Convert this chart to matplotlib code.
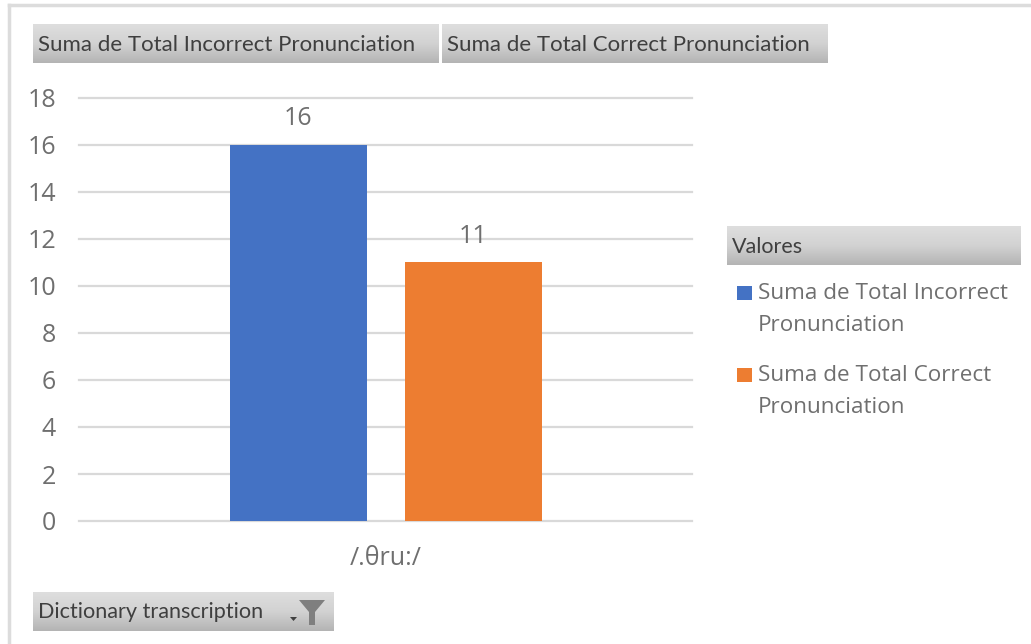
#!/usr/bin/env python
# coding: utf-8

import numpy as np
import matplotlib
matplotlib.use("Agg")
import matplotlib.pyplot as plt
from matplotlib.colors import LinearSegmentedColormap
from matplotlib.patches import Polygon, Rectangle

series_names = ["Suma de Total Incorrect Pronunciation", "Suma de Total Correct Pronunciation"]
legend_labels = ["Suma de Total Incorrect\nPronunciation", "Suma de Total Correct\nPronunciation"]
series_values = [16, 11]
series_colors = ["#4472C4", "#ED7D31"]
category = "/.θru:/"
y_ticks = [0, 2, 4, 6, 8, 10, 12, 14, 16, 18]

W, H = 1031, 644
DARK = "#3f3f3f"
GREY = "#6f6f6f"

plt.rcParams['font.family'] = ['Open Sans', 'DejaVu Sans']

fig = plt.figure(figsize=(W / 100, H / 100), dpi=100)

# pixel coordinate layer for the pivot chart buttons and the frame
ui = fig.add_axes([0, 0, 1, 1], zorder=0)
ui.set_axis_off()

btn_cmap = LinearSegmentedColormap.from_list("btn", ["#dedede", "#d2d2d2", "#b4b4b4"])


def button(x0, x1, y0, y1, label, size):
    grad = np.linspace(0, 1, 64).reshape(-1, 1)
    ui.imshow(grad, extent=(x0, x1, y1, y0), origin="upper", aspect="auto", cmap=btn_cmap)
    ui.text(x0 + 5, (y0 + y1) / 2 + 1, label, fontsize=size, color=DARK, va="center", ha="left",
            family=['Lato', 'DejaVu Sans'])


button(33, 439, 24, 63, series_names[0], 16)
button(442, 828, 24, 63, series_names[1], 16)
button(727, 1021, 226, 265, "Valores", 15.5)
button(33, 334, 592, 631, "Dictionary transcription", 15.6)

# funnel icon and little drop arrow on the filter button
ui.add_patch(Polygon([(299, 600), (325, 600), (315, 612), (315, 625), (309, 625), (309, 612)], color="#7f7f7f", lw=0))
ui.add_patch(Polygon([(290, 617), (297, 617), (293.5, 621)], color="#404040", lw=0))

# outer frame
ui.plot([9, 1031], [5, 5], color="#dcdcdc", lw=2.5)
ui.plot([9, 9], [5, 644], color="#dcdcdc", lw=2.5)

# legend, drawn by hand because the entries wrap on two lines
for color, label, y in zip(series_colors, legend_labels, [286, 368]):
    ui.add_patch(Rectangle((737, y), 15, 14, color=color, lw=0))
    ui.text(758, y - 3, label, fontsize=16.2, color=GREY, va="top", ha="left", linespacing=1.7)

ui.set_xlim(0, W)
ui.set_ylim(H, 0)

# plot area
ax = fig.add_axes([79 / W, 1 - 521 / H, (692 - 79) / W, (521 - 98) / H], zorder=1)
ax.patch.set_alpha(0)

offset = 0.1428
shift = 0.0008
width = 0.2235
for i, (value, color) in enumerate(zip(series_values, series_colors)):
    x = shift - offset if i == 0 else shift + offset
    ax.bar(x, value, width=width, color=color, zorder=3)
    ax.text(x, value + 0.58, str(value), ha="center", va="bottom", fontsize=18, color=GREY)

ax.set_xlim(-0.5, 0.5)
ax.set_ylim(0, 18)
ax.set_yticks(y_ticks)
ax.set_xticks([0])
ax.set_xticklabels([category])
ax.tick_params(axis="both", length=0, labelsize=18, labelcolor=GREY)
ax.tick_params(axis="y", pad=16.5)
ax.tick_params(axis="x", pad=18)
ax.grid(axis="y", color="#d9d9d9", lw=1.6, zorder=0, clip_on=False)
ax.set_axisbelow(True)
for spine in ax.spines.values():
    spine.set_visible(False)

fig.savefig("out.png", dpi=100)
